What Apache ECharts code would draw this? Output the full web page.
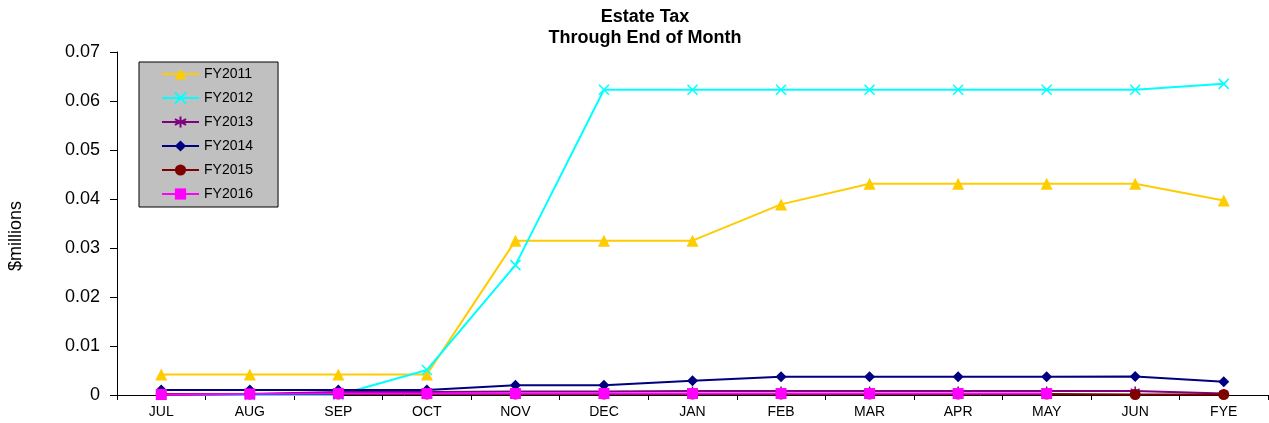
<!DOCTYPE html>
<html>
<head>
<meta charset="utf-8">
<script src="https://cdn.jsdelivr.net/npm/echarts@6/dist/echarts.min.js"></script>
<style>
  html, body { margin: 0; padding: 0; background: #fff; }
  #chart { width: 1269px; height: 423px; }
</style>
</head>
<body>
<div id="chart"></div>
<script>
// Month-end cumulative estate tax collections, $ millions
const months = ['JUL', 'AUG', 'SEP', 'OCT', 'NOV', 'DEC', 'JAN', 'FEB', 'MAR', 'APR', 'MAY', 'JUN', 'FYE'];
const fy2011 = [0.0042, 0.0042, 0.0042, 0.0042, 0.0315, 0.0315, 0.0315, 0.0389, 0.0431, 0.0431, 0.0431, 0.0431, 0.0397];
const fy2012 = [0, 0, 0, 0.0051, 0.0265, 0.0623, 0.0623, 0.0623, 0.0623, 0.0623, 0.0623, 0.0623, 0.0635];
const fy2013 = [0, 0.0002, 0.0006, 0.0006, 0.0007, 0.0007, 0.0008, 0.0008, 0.0008, 0.0008, 0.0008, 0.0008, 0.0003];
const fy2014 = [0.0010, 0.0010, 0.0010, 0.0010, 0.0020, 0.0020, 0.0029, 0.0037, 0.0037, 0.0037, 0.0037, 0.0038, 0.0027];
const fy2015 = [0.0002, 0.0002, 0.0002, 0.0002, 0.0002, 0.0002, 0.0002, 0.0002, 0.0002, 0.0002, 0.0002, 0.0001, 0.0001];
const fy2016 = [0.0001, 0.0002, 0.0003, 0.0003, 0.0003, 0.0003, 0.0003, 0.0003, 0.0003, 0.0003, 0.0003];
const yTicks = [0, 0.01, 0.02, 0.03, 0.04, 0.05, 0.06, 0.07];

const FONT = '"Liberation Sans", Arial, sans-serif';
const crossPath = 'path://M0,0L10,10M10,0L0,10';
const starPath = 'path://M5,0L5,10M0,2.5L10,7.5M10,2.5L0,7.5';

function lineSeries(name, data, color, symbol, size, strokeOnly) {
  return {
    name: name,
    type: 'line',
    data: data,
    symbol: symbol,
    symbolSize: size,
    showAllSymbol: true,
    animation: false,
    lineStyle: { color: color, width: 2 },
    itemStyle: strokeOnly
      ? { color: 'rgba(0,0,0,0)', borderColor: color, borderWidth: 1.5 }
      : { color: color, borderColor: color, borderWidth: 0 },
    emphasis: { disabled: true }
  };
}

const chart = echarts.init(document.getElementById('chart'), null, { renderer: 'canvas' });
chart.setOption({
  backgroundColor: '#ffffff',
  animation: false,
  title: {
    text: 'Estate Tax\nThrough End of Month',
    left: 640,
    textAlign: 'center',
    top: 2,
    textStyle: { fontFamily: FONT, fontSize: 18, fontWeight: 'bold', color: '#000', lineHeight: 21 }
  },
  legend: {
    orient: 'vertical',
    left: 139,
    top: 62,
    backgroundColor: '#c0c0c0',
    borderColor: '#000',
    borderWidth: 1,
    padding: [5, 25, 6, 22],
    itemWidth: 37,
    itemHeight: 14,
    itemGap: 10,
    textStyle: { fontFamily: FONT, fontSize: 14, color: '#000' },
    data: ['FY2011', 'FY2012', 'FY2013', 'FY2014', 'FY2015', 'FY2016']
  },
  graphic: [{
    type: 'text',
    x: 16,
    y: 236,
    rotation: Math.PI / 2,
    style: {
      text: '$millions',
      font: '18px ' + FONT,
      fill: '#000',
      align: 'center',
      verticalAlign: 'middle'
    }
  }],
  grid: { left: 117, right: 1, top: 52, bottom: 28, containLabel: false },
  xAxis: {
    type: 'category',
    data: months,
    boundaryGap: true,
    axisLine: { lineStyle: { color: '#000', width: 1 } },
    axisTick: { show: true, length: 5, lineStyle: { color: '#000' } },
    axisLabel: { fontFamily: FONT, fontSize: 14, color: '#000', margin: 10 },
    splitLine: { show: false }
  },
  yAxis: {
    type: 'value',
    min: 0,
    max: 0.07,
    interval: 0.01,
    axisLine: { show: true, lineStyle: { color: '#000', width: 1 } },
    axisTick: { show: true, length: 7, lineStyle: { color: '#000' } },
    axisLabel: {
      fontFamily: FONT, fontSize: 18, color: '#000', margin: 17,
      formatter: function (v) {
        const t = yTicks.find(function (k) { return Math.abs(k - v) < 1e-9; });
        return t === undefined ? '' : String(t);
      }
    },
    splitLine: { show: false }
  },
  series: [
    lineSeries('FY2011', fy2011, '#FFCC00', 'triangle', 12, false),
    lineSeries('FY2012', fy2012, '#00FFFF', crossPath, 10, true),
    lineSeries('FY2013', fy2013, '#800080', starPath, 9, true),
    lineSeries('FY2014', fy2014, '#000080', 'diamond', 11, false),
    lineSeries('FY2015', fy2015, '#800000', 'circle', 11, false),
    lineSeries('FY2016', fy2016, '#FF00FF', 'rect', 11, false)
  ]
});
</script>
</body>
</html>
